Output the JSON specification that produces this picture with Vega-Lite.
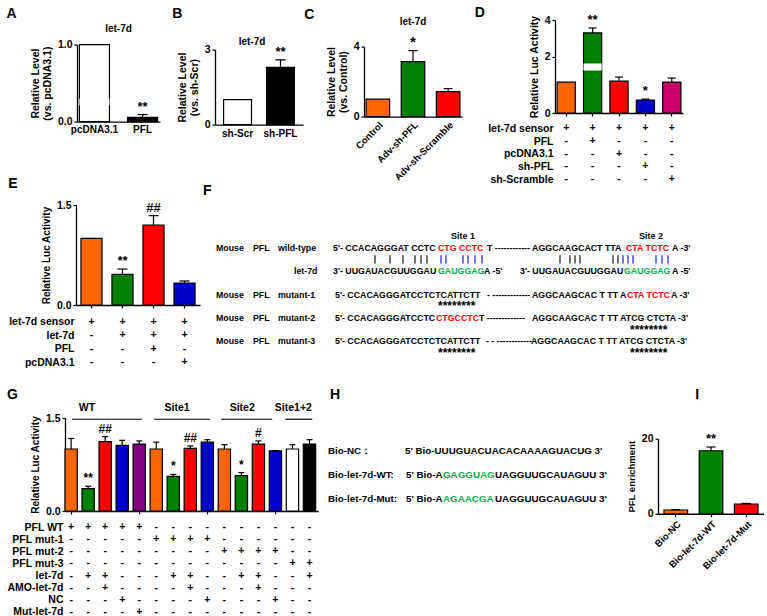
{
  "$schema": "https://vega.github.io/schema/vega-lite/v6.json",
  "background": "white",
  "padding": {"left": 6, "top": 6, "right": 0, "bottom": 0},
  "config": {
    "font": "Liberation Sans",
    "view": {"stroke": null},
    "axis": {
      "labelFont": "Liberation Sans", "labelFontSize": 10.5, "labelFontWeight": "bold", "labelColor": "#000",
      "titleFont": "Liberation Sans", "titleFontSize": 10.5, "titleFontWeight": "bold", "titleColor": "#000",
      "domainColor": "#000", "domainWidth": 1.3, "tickColor": "#000", "tickWidth": 1.2, "tickSize": 3,
      "labelPadding": 2, "titlePadding": 5, "grid": false, "titleLineHeight": 12
    },
    "title": {"font": "Liberation Sans", "fontWeight": "bold", "color": "#000"},
    "text": {"font": "Liberation Sans", "fontWeight": "bold", "color": "#000"}
  },
  "datasets": {
    "A": [{"g": "pcDNA3.1", "v": 1.0}, {"g": "PFL", "v": 0.03, "e": 0.05, "s": "**"}],
    "B": [{"g": "sh-Scr", "v": 1.0}, {"g": "sh-PFL", "v": 2.29, "e": 2.59, "s": "**"}],
    "C": [{"g": "Control", "v": 1.0}, {"g": "Adv-sh-PFL", "v": 3.14, "e": 3.77, "s": "*"}, {"g": "Adv-sh-Scramble", "v": 1.43, "e": 1.6}],
    "D": [{"g": "1", "v": 1.0}, {"g": "2", "v": 3.3, "e": 3.57, "s": "**"}, {"g": "3", "v": 1.03, "e": 1.16}, {"g": "4", "v": 0.42, "e": 0.45, "s": "*"}, {"g": "5", "v": 1.0, "e": 1.13}],
    "Dt": [
      {"r": "let-7d sensor", "g": ["1", "2", "3", "4", "5"], "t": ["+", "+", "+", "+", "+"]},
      {"r": "PFL", "g": ["1", "2", "3", "4", "5"], "t": ["-", "+", "-", "-", "-"]},
      {"r": "pcDNA3.1", "g": ["1", "2", "3", "4", "5"], "t": ["-", "-", "+", "-", "-"]},
      {"r": "sh-PFL", "g": ["1", "2", "3", "4", "5"], "t": ["-", "-", "-", "+", "-"]},
      {"r": "sh-Scramble", "g": ["1", "2", "3", "4", "5"], "t": ["-", "-", "-", "-", "+"]}
    ],
    "E": [{"g": "1", "v": 1.0}, {"g": "2", "v": 0.46, "e": 0.54, "s": "**"}, {"g": "3", "v": 1.2, "e": 1.34, "s": "##"}, {"g": "4", "v": 0.33, "e": 0.36}],
    "Et": [
      {"r": "let-7d sensor", "g": ["1", "2", "3", "4"], "t": ["+", "+", "+", "+"]},
      {"r": "let-7d", "g": ["1", "2", "3", "4"], "t": ["-", "+", "+", "+"]},
      {"r": "PFL", "g": ["1", "2", "3", "4"], "t": ["-", "-", "+", "-"]},
      {"r": "pcDNA3.1", "g": ["1", "2", "3", "4"], "t": ["-", "-", "-", "+"]}
    ],
    "G": [
      {"p": 0, "c": "ctrl", "v": 1.0, "e": 1.17},
      {"p": 1, "c": "let7d", "v": 0.36, "e": 0.40, "s": "**"},
      {"p": 2, "c": "amo", "v": 1.12, "e": 1.20, "s": "##"},
      {"p": 3, "c": "nc", "v": 1.06, "e": 1.14},
      {"p": 4, "c": "mut", "v": 1.08, "e": 1.13},
      {"p": 5, "c": "ctrl", "v": 1.0, "e": 1.11},
      {"p": 6, "c": "let7d", "v": 0.56, "e": 0.59, "s": "*"},
      {"p": 7, "c": "amo", "v": 1.01, "e": 1.05, "s": "##"},
      {"p": 8, "c": "nc", "v": 1.11, "e": 1.15},
      {"p": 9, "c": "ctrl", "v": 1.0, "e": 1.07},
      {"p": 10, "c": "let7d", "v": 0.57, "e": 0.62, "s": "*"},
      {"p": 11, "c": "amo", "v": 1.08, "e": 1.13, "s": "#"},
      {"p": 12, "c": "nc", "v": 0.97, "e": 0.975},
      {"p": 13, "c": "m3", "v": 1.0, "e": 1.07},
      {"p": 14, "c": "m3let7d", "v": 1.08, "e": 1.15}
    ],
    "Gg": [
      {"t": "WT", "m": 0.93, "a": 0.05, "b": 4.16},
      {"t": "Site1", "m": 6.22, "a": 4.87, "b": 8.16},
      {"t": "Site2", "m": 10.05, "a": 8.81, "b": 11.81},
      {"t": "Site1+2", "m": 13.05, "a": 12.58, "b": 14.16}
    ],
    "Gt": [
      {"r": "PFL WT", "p": [0,1,2,3,4,5,6,7,8,9,10,11,12,13,14], "t": ["+","+","+","+","+","-","-","-","-","-","-","-","-","-","-"]},
      {"r": "PFL mut-1", "p": [0,1,2,3,4,5,6,7,8,9,10,11,12,13,14], "t": ["-","-","-","-","-","+","+","+","+","-","-","-","-","-","-"]},
      {"r": "PFL mut-2", "p": [0,1,2,3,4,5,6,7,8,9,10,11,12,13,14], "t": ["-","-","-","-","-","-","-","-","-","+","+","+","+","-","-"]},
      {"r": "PFL mut-3", "p": [0,1,2,3,4,5,6,7,8,9,10,11,12,13,14], "t": ["-","-","-","-","-","-","-","-","-","-","-","-","-","+","+"]},
      {"r": "let-7d", "p": [0,1,2,3,4,5,6,7,8,9,10,11,12,13,14], "t": ["-","+","+","-","-","-","+","+","-","-","+","+","-","-","+"]},
      {"r": "AMO-let-7d", "p": [0,1,2,3,4,5,6,7,8,9,10,11,12,13,14], "t": ["-","-","+","-","-","-","-","+","-","-","-","+","-","-","-"]},
      {"r": "NC", "p": [0,1,2,3,4,5,6,7,8,9,10,11,12,13,14], "t": ["-","-","-","+","-","-","-","-","+","-","-","-","+","-","-"]},
      {"r": "Mut-let-7d", "p": [0,1,2,3,4,5,6,7,8,9,10,11,12,13,14], "t": ["-","-","-","-","+","-","-","-","-","-","-","-","-","-","-"]}
    ],
    "I": [{"g": "Bio-NC", "v": 1.0, "e": 1.1}, {"g": "Bio-let-7d-WT", "v": 16.8, "e": 17.8, "s": "**"}, {"g": "Bio-let-7d-Mut", "v": 2.6, "e": 2.75}],
    "F": [
      {"r": 0, "c": 247, "t": "Site 1", "k": "site"},
      {"r": 0, "c": 435, "t": "Site 2", "k": "site"},
      {"r": 1, "c": 0, "t": "Mouse", "k": "lab"},
      {"r": 1, "c": 37, "t": "PFL", "k": "lab"},
      {"r": 1, "c": 62, "t": "wild-type", "k": "lab"},
      {"r": 1, "c": 117, "t": "5'- CCACAGGGAT CCTC", "k": "seq"},
      {"r": 1, "c": 222, "t": "CTG CCTC", "k": "red"},
      {"r": 1, "c": 271, "t": "T ------------ AGGCAAGCACT TTA", "k": "seq"},
      {"r": 1, "c": 410, "t": "CTA TCTC", "k": "red"},
      {"r": 1, "c": 456, "t": "A -3'", "k": "seq"},
      {"r": 2, "c": 159, "k": "pk"},
      {"r": 2, "c": 174, "k": "pk"},
      {"r": 2, "c": 187, "k": "pk"},
      {"r": 2, "c": 199, "k": "pk"},
      {"r": 2, "c": 205, "k": "pk"},
      {"r": 2, "c": 211, "k": "pk"},
      {"r": 2, "c": 225, "k": "pb"},
      {"r": 2, "c": 230, "k": "pb"},
      {"r": 2, "c": 247, "k": "pb"},
      {"r": 2, "c": 252, "k": "pb"},
      {"r": 2, "c": 259, "k": "pb"},
      {"r": 2, "c": 266, "k": "pb"},
      {"r": 2, "c": 344, "k": "pk"},
      {"r": 2, "c": 354, "k": "pk"},
      {"r": 2, "c": 359, "k": "pk"},
      {"r": 2, "c": 364, "k": "pk"},
      {"r": 2, "c": 397, "k": "pk"},
      {"r": 2, "c": 402, "k": "pk"},
      {"r": 2, "c": 407, "k": "pb"},
      {"r": 2, "c": 412, "k": "pb"},
      {"r": 2, "c": 417, "k": "pb"},
      {"r": 2, "c": 440, "k": "pb"},
      {"r": 2, "c": 446, "k": "pb"},
      {"r": 2, "c": 452, "k": "pb"},
      {"r": 3, "c": 78, "t": "let-7d", "k": "lab"},
      {"r": 3, "c": 117, "t": "3'- UUGAUACGUUGGAU", "k": "seq"},
      {"r": 3, "c": 222, "t": "GAUGGAG", "k": "grn"},
      {"r": 3, "c": 268, "t": "A -5'", "k": "seq"},
      {"r": 3, "c": 304, "t": "3'- UUGAUACGUUGGAU", "k": "seq"},
      {"r": 3, "c": 408, "t": "GAUGGAG", "k": "grn"},
      {"r": 3, "c": 456, "t": "A -5'", "k": "seq"},
      {"r": 5, "c": 0, "t": "Mouse", "k": "lab"},
      {"r": 5, "c": 37, "t": "PFL", "k": "lab"},
      {"r": 5, "c": 62, "t": "mutant-1", "k": "lab"},
      {"r": 5, "c": 119, "t": "5'- CCACAGGGATCCTCTCATTCTT", "k": "seq"},
      {"r": 5, "c": 271, "t": "- -------------", "k": "seq"},
      {"r": 5, "c": 316, "t": "AGGCAAGCAC T TT A", "k": "seq"},
      {"r": 5, "c": 411, "t": "CTA TCTC", "k": "red"},
      {"r": 5, "c": 455, "t": "A -3'", "k": "seq"},
      {"r": 6, "c": 222, "t": "********", "k": "star"},
      {"r": 7, "c": 0, "t": "Mouse", "k": "lab"},
      {"r": 7, "c": 37, "t": "PFL", "k": "lab"},
      {"r": 7, "c": 62, "t": "mutant-2", "k": "lab"},
      {"r": 7, "c": 119, "t": "5'- CCACAGGGATCCTC", "k": "seq"},
      {"r": 7, "c": 220, "t": "CTGCCTC", "k": "red"},
      {"r": 7, "c": 263, "t": "T -------------", "k": "seq"},
      {"r": 7, "c": 316, "t": "AGGCAAGCAC T TT ATCG CTCTA -3'", "k": "seq"},
      {"r": 8, "c": 414, "t": "********", "k": "star"},
      {"r": 9, "c": 0, "t": "Mouse", "k": "lab"},
      {"r": 9, "c": 37, "t": "PFL", "k": "lab"},
      {"r": 9, "c": 62, "t": "mutant-3", "k": "lab"},
      {"r": 9, "c": 119, "t": "5'- CCACAGGGATCCTCTCATTCTT", "k": "seq"},
      {"r": 9, "c": 270, "t": "- - ------------", "k": "seq"},
      {"r": 9, "c": 315, "t": "AGGCAAGCAC T TT ATCG CTCTA -3'", "k": "seq"},
      {"r": 10, "c": 222, "t": "********", "k": "star"},
      {"r": 10, "c": 414, "t": "********", "k": "star"}
    ],
    "H": [
      {"r": 0, "c": 0, "t": "Bio-NC：", "k": "lab"},
      {"r": 0, "c": 77, "t": "5' Bio-UUUGUACUACACAAAAGUACUG  3'", "k": "seq"},
      {"r": 1, "c": 0, "t": "Bio-let-7d-WT:", "k": "lab"},
      {"r": 1, "c": 78, "t": "5' Bio-A", "k": "seq"},
      {"r": 1, "c": 115, "t": "GAGGUAG", "k": "grn"},
      {"r": 1, "c": 167, "t": "UAGGUUGCAUAGUU  3'", "k": "seq"},
      {"r": 2, "c": 0, "t": "Bio-let-7d-Mut:", "k": "lab"},
      {"r": 2, "c": 78, "t": "5' Bio-A", "k": "seq"},
      {"r": 2, "c": 115, "t": "AGAACGA", "k": "grn"},
      {"r": 2, "c": 167, "t": "UAGGUUGCAUAGUU 3'", "k": "seq"}
    ]
  },
  "resolve": {"scale": {"fill": "independent", "color": "independent"}},
  "spacing": -9,
  "vconcat": [
    {
      "spacing": -60,
      "resolve": {"scale": {"fill": "independent", "color": "independent"}},
      "hconcat": [
        {"data": {"values": [{}]}, "width": 1, "height": 1, "mark": {"type": "rule", "opacity": 0}, "encoding": {}},
        {
          "spacing": 12,
          "resolve": {"scale": {"fill": "independent", "color": "independent"}},
          "hconcat": [
            {
              "title": {"text": "A", "anchor": "start", "frame": "bounds", "fontSize": 14, "dx": -24, "offset": -1},
              "spacing": 2.6,
              "resolve": {"scale": {"fill": "independent", "color": "independent"}},
              "vconcat": [
                {"data": {"values": [{}]}, "width": 83, "height": 1, "mark": {"type": "rule", "opacity": 0}, "encoding": {}},
                {
                  "title": {"text": "let-7d", "fontSize": 10, "offset": 5.2, "frame": "group", "anchor": "middle"},
                  "width": 83, "height": 77,
                  "data": {"name": "A"},
                  "encoding": {"x": {"field": "g", "type": "nominal", "sort": null, "scale": {"paddingInner": 0.375, "paddingOuter": 0.05}, "axis": {"title": null, "labelAngle": 0, "ticks": false, "labelFontSize": 10, "labelPadding": 3}}},
                  "layer": [
                    {"mark": {"type": "bar", "stroke": "#000", "strokeWidth": 1.2},
                     "encoding": {
                       "y": {"field": "v", "type": "quantitative", "scale": {"domain": [0, 0.12, 0.345, 1], "range": [77, 60, 55, 0]}, "axis": {"values": [0, 0.1, 0.5, 1], "format": ".1f", "title": ["Relative  Level", "(vs. pcDNA3.1)"]}},
                       "fill": {"field": "g", "type": "nominal", "scale": {"domain": ["pcDNA3.1", "PFL"], "range": ["#ffffff", "#000000"]}, "legend": null}
                     }},
                    {"transform": [{"filter": "datum.v > 0.345"}], "mark": {"type": "bar", "fill": "#ffffff", "stroke": "#ffffff", "strokeWidth": 7},
                     "encoding": {"y": {"datum": 0.2325, "type": "quantitative", "scale": {"domain": [0, 0.12, 0.345, 1], "range": [77, 60, 55, 0]}}, "y2": {"datum": 0.2325}}},
                    {"transform": [{"filter": "datum.e > datum.v"}], "mark": {"type": "rule", "strokeWidth": 1.2, "color": "#000"},
                     "encoding": {"y": {"field": "v", "type": "quantitative", "scale": {"domain": [0, 0.12, 0.345, 1], "range": [77, 60, 55, 0]}}, "y2": {"field": "e"}}},
                    {"transform": [{"filter": "datum.e > datum.v"}], "mark": {"type": "tick", "orient": "horizontal", "size": 10, "thickness": 1.2, "color": "#000", "opacity": 1},
                     "encoding": {"y": {"field": "e", "type": "quantitative", "scale": {"domain": [0, 0.12, 0.345, 1], "range": [77, 60, 55, 0]}}}},
                    {"transform": [{"filter": "datum.s"}], "mark": {"type": "text", "baseline": "bottom", "dy": -1, "fontSize": 13},
                     "encoding": {"y": {"field": "e", "type": "quantitative", "scale": {"domain": [0, 0.12, 0.345, 1], "range": [77, 60, 55, 0]}}, "text": {"field": "s"}}}
                  ]
                }
              ]
            },
            {
              "spacing": 1,
              "resolve": {"scale": {"fill": "independent", "color": "independent"}},
              "hconcat": [
                {
                  "title": {"text": "B", "anchor": "start", "frame": "bounds", "fontSize": 14, "dx": -5, "offset": -1},
                  "spacing": 15.6,
                  "resolve": {"scale": {"fill": "independent", "color": "independent"}},
                  "vconcat": [
                    {"data": {"values": [{}]}, "width": 88, "height": 1, "mark": {"type": "rule", "opacity": 0}, "encoding": {}},
                    {
                      "title": {"text": "let-7d", "fontSize": 10, "offset": -2.85, "frame": "group", "anchor": "middle", "dx": -7},
                      "width": 88, "height": 75,
                      "data": {"name": "B"},
                      "encoding": {"x": {"field": "g", "type": "nominal", "sort": null, "scale": {"paddingInner": 0.35, "paddingOuter": 0.2}, "axis": {"title": null, "labelAngle": 0, "ticks": false, "labelFontSize": 10, "labelPadding": 4}}},
                      "layer": [
                        {"mark": {"type": "bar", "stroke": "#000", "strokeWidth": 1.2},
                         "encoding": {
                           "y": {"field": "v", "type": "quantitative", "scale": {"domain": [0, 3]}, "axis": {"values": [0, 1, 2, 3], "title": ["Relative  Level", "(vs. sh-Scr)"]}},
                           "fill": {"field": "g", "type": "nominal", "scale": {"domain": ["sh-Scr", "sh-PFL"], "range": ["#ffffff", "#000000"]}, "legend": null}
                         }},
                        {"transform": [{"filter": "datum.e > datum.v"}], "mark": {"type": "rule", "strokeWidth": 1.2, "color": "#000"},
                         "encoding": {"y": {"field": "v", "type": "quantitative", "scale": {"domain": [0, 3]}}, "y2": {"field": "e"}}},
                        {"transform": [{"filter": "datum.e > datum.v"}], "mark": {"type": "tick", "orient": "horizontal", "size": 10, "thickness": 1.2, "color": "#000", "opacity": 1},
                         "encoding": {"y": {"field": "e", "type": "quantitative", "scale": {"domain": [0, 3]}}}},
                        {"transform": [{"filter": "datum.s"}], "mark": {"type": "text", "baseline": "bottom", "dy": -1, "fontSize": 13},
                         "encoding": {"y": {"field": "e", "type": "quantitative", "scale": {"domain": [0, 3]}}, "text": {"field": "s"}}}
                      ]
                    }
                  ]
                },
                {
                  "title": {"text": "C", "anchor": "start", "frame": "bounds", "fontSize": 14, "dx": -22, "offset": -4.4},
                  "spacing": -4.4,
                  "resolve": {"scale": {"fill": "independent", "color": "independent"}},
                  "vconcat": [
                    {"data": {"values": [{}]}, "width": 98, "height": 1, "mark": {"type": "rule", "opacity": 0}, "encoding": {}},
                    {
                      "title": {"text": "let-7d", "fontSize": 10, "offset": 7.15, "frame": "group", "anchor": "middle"},
                      "width": 98, "height": 70,
                      "data": {"name": "C"},
                      "encoding": {"x": {"field": "g", "type": "nominal", "sort": null, "scale": {"paddingInner": 0.33, "paddingOuter": 0.06}, "axis": {"title": null, "labelAngle": -45, "ticks": false, "labelFontSize": 9.5, "labelPadding": 3}}},
                      "layer": [
                        {"mark": {"type": "bar", "stroke": "#000", "strokeWidth": 1.2},
                         "encoding": {
                           "y": {"field": "v", "type": "quantitative", "scale": {"domain": [0, 4]}, "axis": {"values": [0, 1, 2, 3, 4], "title": ["Relative  Level", "(vs. Control)"]}},
                           "fill": {"field": "g", "type": "nominal", "scale": {"domain": ["Control", "Adv-sh-PFL", "Adv-sh-Scramble"], "range": ["#FF6600", "#008000", "#FF0000"]}, "legend": null}
                         }},
                        {"transform": [{"filter": "datum.e > datum.v"}], "mark": {"type": "rule", "strokeWidth": 1.2, "color": "#000"},
                         "encoding": {"y": {"field": "v", "type": "quantitative", "scale": {"domain": [0, 4]}}, "y2": {"field": "e"}}},
                        {"transform": [{"filter": "datum.e > datum.v"}], "mark": {"type": "tick", "orient": "horizontal", "size": 9, "thickness": 1.2, "color": "#000", "opacity": 1},
                         "encoding": {"y": {"field": "e", "type": "quantitative", "scale": {"domain": [0, 4]}}}},
                        {"transform": [{"filter": "datum.s"}], "mark": {"type": "text", "baseline": "bottom", "dy": -1, "fontSize": 15},
                         "encoding": {"y": {"field": "e", "type": "quantitative", "scale": {"domain": [0, 4]}}, "text": {"field": "s"}}}
                      ]
                    }
                  ]
                }
              ]
            },
            {
              "title": {"text": "D", "anchor": "start", "frame": "bounds", "fontSize": 14, "dx": -13, "offset": -6.25},
              "spacing": 3,
              "resolve": {"scale": {"fill": "independent", "color": "independent"}},
              "vconcat": [
                {
                  "width": 128, "height": 93,
                  "data": {"name": "D"},
                  "encoding": {"x": {"field": "g", "type": "nominal", "sort": null, "scale": {"paddingInner": 0.31, "paddingOuter": 0.08}, "axis": {"title": null, "labels": false, "ticks": true}}},
                  "layer": [
                    {"mark": {"type": "bar", "stroke": "#000", "strokeWidth": 1.2},
                     "encoding": {
                       "y": {"field": "v", "type": "quantitative", "scale": {"domain": [0, 1.39, 1.62, 4], "range": [93, 50, 44, 0]}, "axis": {"values": [0, 1, 2, 3, 4], "title": "Relative Luc Activity"}},
                       "fill": {"field": "g", "type": "nominal", "scale": {"domain": ["1", "2", "3", "4", "5"], "range": ["#FF6600", "#008000", "#FF0000", "#0000CC", "#CC0066"]}, "legend": null}
                     }},
                    {"transform": [{"filter": "datum.g == '1' || datum.v > 1.62"}], "mark": {"type": "bar", "fill": "#ffffff", "stroke": "#ffffff", "strokeWidth": 7},
                     "encoding": {"y": {"datum": 1.505, "type": "quantitative", "scale": {"domain": [0, 1.39, 1.62, 4], "range": [93, 50, 44, 0]}}, "y2": {"datum": 1.505}}},
                    {"transform": [{"filter": "datum.e > datum.v"}], "mark": {"type": "rule", "strokeWidth": 1.2, "color": "#000"},
                     "encoding": {"y": {"field": "v", "type": "quantitative", "scale": {"domain": [0, 1.39, 1.62, 4], "range": [93, 50, 44, 0]}}, "y2": {"field": "e"}}},
                    {"transform": [{"filter": "datum.e > datum.v"}], "mark": {"type": "tick", "orient": "horizontal", "size": 8, "thickness": 1.2, "color": "#000", "opacity": 1},
                     "encoding": {"y": {"field": "e", "type": "quantitative", "scale": {"domain": [0, 1.39, 1.62, 4], "range": [93, 50, 44, 0]}}}},
                    {"transform": [{"filter": "datum.s"}], "mark": {"type": "text", "baseline": "bottom", "dy": -1, "fontSize": 13},
                     "encoding": {"y": {"field": "e", "type": "quantitative", "scale": {"domain": [0, 1.39, 1.62, 4], "range": [93, 50, 44, 0]}}, "text": {"field": "s"}}}
                  ]
                },
                {
                  "width": 128, "height": 63.5,
                  "data": {"name": "Dt"},
                  "transform": [{"flatten": ["g", "t"]}],
                  "mark": {"type": "text", "fontSize": 10.5, "baseline": "middle"},
                  "encoding": {
                    "x": {"field": "g", "type": "nominal", "scale": {"type": "band", "domain": ["1", "2", "3", "4", "5"], "paddingInner": 0.31, "paddingOuter": 0.08}, "axis": null},
                    "y": {"field": "r", "type": "nominal", "scale": {"domain": ["let-7d sensor", "PFL", "pcDNA3.1", "sh-PFL", "sh-Scramble"]}, "axis": {"title": null, "domain": false, "ticks": false, "labelPadding": 2}},
                    "text": {"field": "t"}
                  }
                }
              ]
            }
          ]
        }
      ]
    },
    {
      "spacing": 18,
      "resolve": {"scale": {"fill": "independent", "color": "independent"}},
      "vconcat": [
        {
          "spacing": -58,
          "resolve": {"scale": {"fill": "independent", "color": "independent"}},
          "hconcat": [
            {"data": {"values": [{}]}, "width": 1, "height": 1, "mark": {"type": "rule", "opacity": 0}, "encoding": {}},
            {
              "spacing": 3,
              "resolve": {"scale": {"fill": "independent", "color": "independent"}},
              "hconcat": [
                {
                  "title": {"text": "E", "anchor": "start", "frame": "bounds", "fontSize": 14, "dx": -0.5, "offset": 8.75},
                  "spacing": 4,
                  "resolve": {"scale": {"fill": "independent", "color": "independent"}},
                  "vconcat": [
                    {
                      "width": 124, "height": 100,
                      "data": {"name": "E"},
                      "encoding": {"x": {"field": "g", "type": "nominal", "sort": null, "scale": {"paddingInner": 0.32, "paddingOuter": 0.16}, "axis": {"title": null, "labels": false, "ticks": true}}},
                      "layer": [
                        {"mark": {"type": "bar", "stroke": "#000", "strokeWidth": 1.2},
                         "encoding": {
                           "y": {"field": "v", "type": "quantitative", "scale": {"domain": [0, 1.5]}, "axis": {"values": [0, 0.5, 1, 1.5], "format": ".1f", "title": "Relative Luc Activity", "titleFontSize": 10}},
                           "fill": {"field": "g", "type": "nominal", "scale": {"domain": ["1", "2", "3", "4"], "range": ["#FF6600", "#008000", "#FF0000", "#0000CC"]}, "legend": null}
                         }},
                        {"transform": [{"filter": "datum.e > datum.v"}], "mark": {"type": "rule", "strokeWidth": 1.2, "color": "#000"},
                         "encoding": {"y": {"field": "v", "type": "quantitative", "scale": {"domain": [0, 1.5]}}, "y2": {"field": "e"}}},
                        {"transform": [{"filter": "datum.e > datum.v"}], "mark": {"type": "tick", "orient": "horizontal", "size": 10, "thickness": 1.2, "color": "#000", "opacity": 1},
                         "encoding": {"y": {"field": "e", "type": "quantitative", "scale": {"domain": [0, 1.5]}}}},
                        {"transform": [{"filter": "datum.s"}], "mark": {"type": "text", "baseline": "bottom", "dy": -1, "fontSize": 13},
                         "encoding": {"y": {"field": "e", "type": "quantitative", "scale": {"domain": [0, 1.5]}}, "text": {"field": "s"}}}
                      ]
                    },
                    {
                      "width": 124, "height": 54,
                      "data": {"name": "Et"},
                      "transform": [{"flatten": ["g", "t"]}],
                      "mark": {"type": "text", "fontSize": 10.5, "baseline": "middle"},
                      "encoding": {
                        "x": {"field": "g", "type": "nominal", "scale": {"type": "band", "domain": ["1", "2", "3", "4"], "paddingInner": 0.32, "paddingOuter": 0.16}, "axis": null},
                        "y": {"field": "r", "type": "nominal", "scale": {"domain": ["let-7d sensor", "let-7d", "PFL", "pcDNA3.1"]}, "axis": {"title": null, "domain": false, "ticks": false, "labelPadding": 2}},
                        "text": {"field": "t"}
                      }
                    }
                  ]
                },
                {
                  "title": {"text": "F", "anchor": "start", "frame": "bounds", "fontSize": 14, "dx": -13, "offset": 7},
                  "width": 476, "height": 148,
                  "data": {"name": "F"},
                  "encoding": {
                    "x": {"field": "c", "type": "quantitative", "scale": {"domain": [0, 476]}, "axis": null},
                    "color": {"field": "k", "type": "nominal", "scale": {"domain": ["lab", "seq", "red", "grn", "site", "pk", "pb", "star"], "range": ["#000000", "#000000", "#FF0000", "#00B050", "#000000", "#000000", "#0000FF", "#000000"]}, "legend": null}
                  },
                  "layer": [
                    {"transform": [{"filter": "indexof(['lab','seq','red','grn'], datum.k) >= 0"}], "mark": {"type": "text", "align": "left", "baseline": "middle", "fontSize": 8.8},
                     "encoding": {"y": {"field": "r", "type": "quantitative", "scale": {"domain": [-2.65, 10], "reverse": true}, "axis": null}, "text": {"field": "t"}}},
                    {"transform": [{"filter": "datum.k == 'site'"}], "mark": {"type": "text", "align": "center", "baseline": "middle", "fontSize": 9},
                     "encoding": {"y": {"field": "r", "type": "quantitative", "scale": {"domain": [-2.65, 10], "reverse": true}, "axis": null}, "text": {"field": "t"}}},
                    {"transform": [{"filter": "datum.k == 'pk' || datum.k == 'pb'"}], "mark": {"type": "rule", "strokeWidth": 1.1},
                     "encoding": {"y": {"datum": 1.64, "type": "quantitative", "scale": {"domain": [-2.65, 10], "reverse": true}, "axis": null}, "y2": {"datum": 2.36}}},
                    {"transform": [{"filter": "datum.k == 'star'"}], "mark": {"type": "text", "align": "left", "baseline": "middle", "fontSize": 12},
                     "encoding": {"y": {"field": "r", "type": "quantitative", "scale": {"domain": [-2.65, 10], "reverse": true}, "axis": null}, "text": {"field": "t"}}}
                  ]
                }
              ]
            }
          ]
        },
        {
          "spacing": 10,
          "resolve": {"scale": {"fill": "independent", "color": "independent"}},
          "hconcat": [
            {
              "title": {"text": "G", "anchor": "start", "frame": "bounds", "fontSize": 14, "dx": 0, "offset": 1},
              "spacing": 4,
              "resolve": {"scale": {"fill": "independent", "color": "independent"}},
              "vconcat": [
                {
                  "width": 253, "height": 93,
                  "data": {"name": "G"},
                  "layer": [
                    {"mark": {"type": "bar", "stroke": "#000", "strokeWidth": 1.2, "width": 12.3},
                     "encoding": {
                       "x": {"field": "p", "type": "quantitative", "scale": {"domain": [-0.36, 14.5], "nice": false, "padding": 0}, "axis": {"values": [0,1,2,3,4,5,6,7,8,9,10,11,12,13,14], "labels": false, "title": null}},
                       "y": {"field": "v", "type": "quantitative", "scale": {"domain": [0, 1.5], "nice": false, "padding": 0}, "axis": {"values": [0, 0.5, 1, 1.5], "format": ".1f", "title": "Relative Luc Activity", "titleFontSize": 10}},
                       "fill": {"field": "c", "type": "nominal", "scale": {"domain": ["ctrl", "let7d", "amo", "nc", "mut", "m3", "m3let7d"], "range": ["#FF6600", "#008000", "#FF0000", "#0000CC", "#800080", "#FFFFFF", "#000000"]}, "legend": null}
                     }},
                    {"transform": [{"filter": "datum.e > datum.v"}], "mark": {"type": "rule", "strokeWidth": 1.2, "color": "#000"},
                     "encoding": {"x": {"field": "p", "type": "quantitative", "scale": {"domain": [-0.36, 14.5], "nice": false, "padding": 0}}, "y": {"field": "v", "type": "quantitative", "scale": {"domain": [0, 1.5], "nice": false, "padding": 0}}, "y2": {"field": "e"}}},
                    {"transform": [{"filter": "datum.e > datum.v"}], "mark": {"type": "tick", "orient": "horizontal", "size": 6, "thickness": 1.2, "color": "#000", "opacity": 1},
                     "encoding": {"x": {"field": "p", "type": "quantitative", "scale": {"domain": [-0.36, 14.5], "nice": false, "padding": 0}}, "y": {"field": "e", "type": "quantitative", "scale": {"domain": [0, 1.5], "nice": false, "padding": 0}}}},
                    {"transform": [{"filter": "datum.s"}], "mark": {"type": "text", "baseline": "bottom", "dy": -1, "fontSize": 12},
                     "encoding": {"x": {"field": "p", "type": "quantitative", "scale": {"domain": [-0.36, 14.5], "nice": false, "padding": 0}}, "y": {"field": "e", "type": "quantitative", "scale": {"domain": [0, 1.5], "nice": false, "padding": 0}}, "text": {"field": "s"}}},
                    {"data": {"name": "Gg"}, "mark": {"type": "rule", "strokeWidth": 1.2, "color": "#000"},
                     "encoding": {"x": {"field": "a", "type": "quantitative", "scale": {"domain": [-0.36, 14.5], "nice": false, "padding": 0}}, "x2": {"field": "b"}, "y": {"datum": 1.48, "type": "quantitative", "scale": {"domain": [0, 1.5], "nice": false, "padding": 0}}}},
                    {"data": {"name": "Gg"}, "mark": {"type": "text", "fontSize": 10.5, "baseline": "middle"},
                     "encoding": {"x": {"field": "m", "type": "quantitative", "scale": {"domain": [-0.36, 14.5], "nice": false, "padding": 0}}, "y": {"datum": 1.66, "type": "quantitative", "scale": {"domain": [0, 1.5], "nice": false, "padding": 0}}, "text": {"field": "t"}}}
                  ]
                },
                {
                  "width": 253, "height": 97,
                  "data": {"name": "Gt"},
                  "transform": [{"flatten": ["p", "t"]}],
                  "mark": {"type": "text", "fontSize": 10.5, "baseline": "middle"},
                  "encoding": {
                    "x": {"field": "p", "type": "quantitative", "scale": {"domain": [-0.36, 14.5], "nice": false, "padding": 0}, "axis": null},
                    "y": {"field": "r", "type": "nominal", "scale": {"domain": ["PFL WT", "PFL mut-1", "PFL mut-2", "PFL mut-3", "let-7d", "AMO-let-7d", "NC", "Mut-let-7d"]}, "axis": {"title": null, "domain": false, "ticks": false, "labelPadding": 2}},
                    "text": {"field": "t"}
                  }
                }
              ]
            },
            {
              "spacing": 16,
              "resolve": {"scale": {"fill": "independent", "color": "independent"}},
              "hconcat": [
                {
                  "title": {"text": "H", "anchor": "start", "frame": "bounds", "fontSize": 14, "dx": 2, "offset": 16},
                  "width": 282, "height": 81,
                  "data": {"name": "H"},
                  "mark": {"type": "text", "align": "left", "baseline": "middle", "fontSize": 9.8},
                  "encoding": {
                    "x": {"field": "c", "type": "quantitative", "scale": {"domain": [0, 282]}, "axis": null},
                    "y": {"field": "r", "type": "quantitative", "scale": {"domain": [-1.375, 2], "reverse": true}, "axis": null},
                    "text": {"field": "t"},
                    "color": {"field": "k", "type": "nominal", "scale": {"domain": ["lab", "seq", "grn"], "range": ["#000000", "#000000", "#00B050"]}, "legend": null}
                  }
                },
                {
                  "title": {"text": "I", "anchor": "start", "frame": "bounds", "fontSize": 14, "dx": 69, "offset": 16},
                  "spacing": 13.75,
                  "resolve": {"scale": {"fill": "independent", "color": "independent"}},
                  "vconcat": [
                    {"data": {"values": [{}]}, "width": 106, "height": 1, "mark": {"type": "rule", "opacity": 0}, "encoding": {}},
                    {
                      "width": 106, "height": 75,
                      "data": {"name": "I"},
                      "encoding": {"x": {"field": "g", "type": "nominal", "sort": null, "scale": {"paddingInner": 0.33, "paddingOuter": 0.17}, "axis": {"title": null, "labelAngle": -45, "ticks": true, "labelFontSize": 9.5}}},
                      "layer": [
                        {"mark": {"type": "bar", "stroke": "#000", "strokeWidth": 1.2},
                         "encoding": {
                           "y": {"field": "v", "type": "quantitative", "scale": {"domain": [0, 20]}, "axis": {"values": [0, 5, 10, 15, 20], "title": "PFL enrichment", "titleFontSize": 9.5}},
                           "fill": {"field": "g", "type": "nominal", "scale": {"domain": ["Bio-NC", "Bio-let-7d-WT", "Bio-let-7d-Mut"], "range": ["#FF6600", "#008000", "#FF0000"]}, "legend": null}
                         }},
                        {"transform": [{"filter": "datum.e > datum.v"}], "mark": {"type": "rule", "strokeWidth": 1.2, "color": "#000"},
                         "encoding": {"y": {"field": "v", "type": "quantitative", "scale": {"domain": [0, 20]}}, "y2": {"field": "e"}}},
                        {"transform": [{"filter": "datum.e > datum.v"}], "mark": {"type": "tick", "orient": "horizontal", "size": 9, "thickness": 1.2, "color": "#000", "opacity": 1},
                         "encoding": {"y": {"field": "e", "type": "quantitative", "scale": {"domain": [0, 20]}}}},
                        {"transform": [{"filter": "datum.s"}], "mark": {"type": "text", "baseline": "bottom", "dy": -1, "fontSize": 13},
                         "encoding": {"y": {"field": "e", "type": "quantitative", "scale": {"domain": [0, 20]}}, "text": {"field": "s"}}}
                      ]
                    }
                  ]
                }
              ]
            }
          ]
        }
      ]
    }
  ]
}
